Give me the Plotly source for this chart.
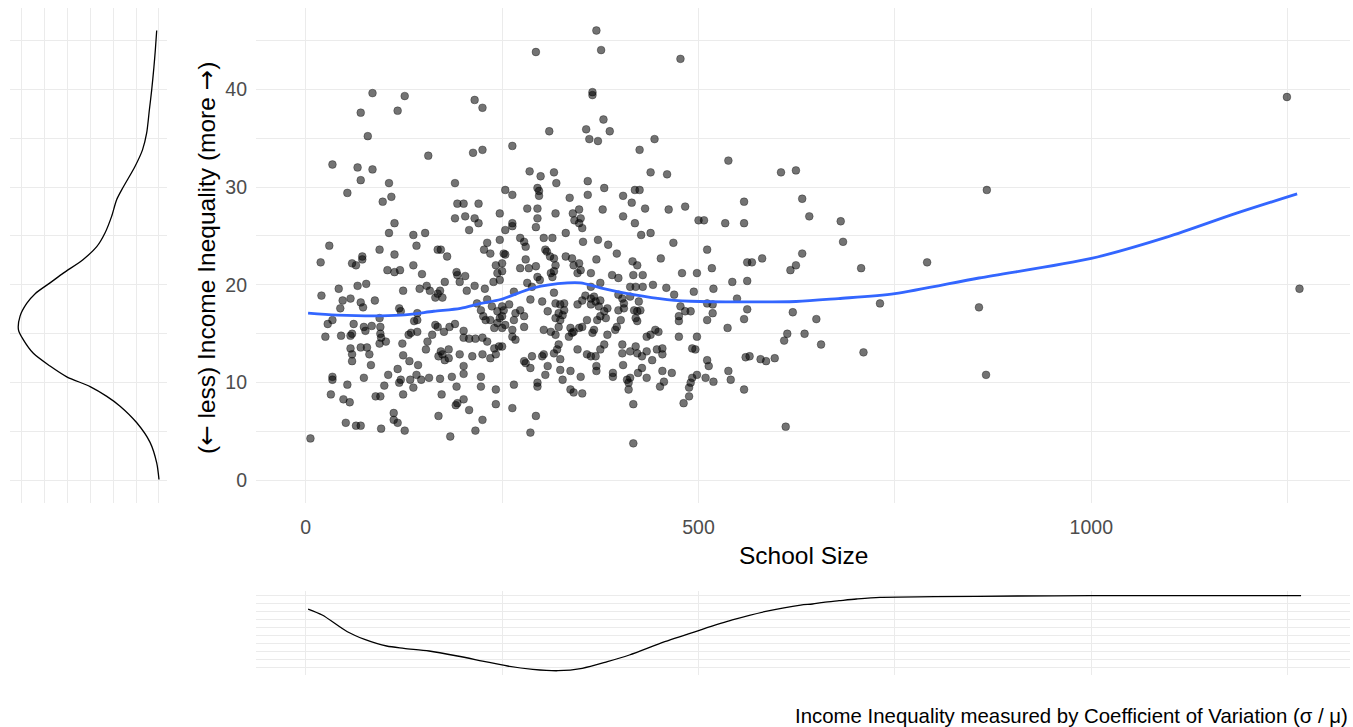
import plotly.graph_objects as go

# ---- school-level observations: enrolment vs. income inequality (CV in %) ----
school_size = [
    85, 126, 70, 117, 215, 225, 79, 34, 66, 85, 70, 156, 213, 225, 106, 53, 98, 109, 190, 193,
    201, 220, 190, 203, 215, 220, 208, 113, 106, 137, 152, 30, 141, 231, 247, 247, 94, 168, 172,
    370, 293, 376, 477, 365, 365, 379, 310, 357, 387, 361, 372, 444, 425, 263, 285, 299, 316, 319,
    359, 439, 460, 254, 263, 295, 297, 297, 336, 359, 380, 404, 419, 425, 415, 432, 462, 483, 282,
    295, 318, 295, 293, 340, 348, 342, 350, 348, 352, 378, 404, 419, 331, 427, 439, 263, 263, 254,
    273, 278, 280, 303, 314, 353, 372, 385, 468, 305, 500,
    19, 59, 64, 72, 72, 113, 104, 113, 120, 137, 148, 180, 192, 193, 203, 196, 227, 235, 242, 244,
    247, 20, 42, 47, 57, 44, 66, 77, 70, 73, 88, 124, 145, 154, 158, 168, 165, 174, 171, 177, 205,
    215, 228, 239, 119, 121, 94, 142, 142, 138, 28, 34, 25, 45, 61, 74, 76, 84, 95, 95, 96, 102, 94,
    57, 59, 57, 59, 59, 70, 78, 81, 83, 123, 124, 134, 131, 142, 132, 143, 153, 155, 161, 165, 168,
    176, 183, 190, 169, 174, 172, 182, 182, 177, 196, 201, 201, 208, 216, 225, 231, 212, 225, 235,
    240, 246, 242, 201, 201, 186, 192, 171, 157, 147, 141, 133, 137, 119, 121, 117, 105, 100, 124,
    74, 34, 34, 53, 32, 48, 56, 89, 95, 173, 191, 193, 201, 208, 223, 223, 242, 242, 112, 112, 117,
    126, 51, 64, 70, 96, 169, 225, 216, 184, 6, 218, 223, 226, 229, 235, 240, 244, 247, 237, 244, 231,
    252, 254, 250, 250, 280, 273, 284, 293, 295, 298, 307, 311, 316, 318, 316, 312, 314, 331, 339,
    341, 348, 350, 346, 370, 363, 396, 390, 398, 416, 422, 417, 429, 452, 479, 498, 459, 442, 494,
    413, 420, 429, 375, 363, 367, 265, 282, 288, 286, 301, 316, 318, 324, 329, 327, 329, 346, 352,
    356, 363, 363, 369, 375, 373, 384, 398, 403, 405, 405, 398, 418, 422, 426, 420, 422, 413, 424,
    469, 477, 483, 490, 475, 475, 475, 498, 492, 496, 250, 252, 259, 250, 254, 250, 265, 267, 273,
    278, 278, 263, 263, 267, 250, 303, 312, 318, 322, 324, 322, 308, 318, 337, 341, 348, 352, 358,
    367, 365, 371, 375, 380, 382, 335, 339, 384, 394, 396, 401, 322, 320, 316, 303, 301, 346, 358,
    363, 369, 375, 380, 403, 403, 413, 420, 422, 428, 434, 434, 439, 445, 449, 447, 454, 454, 441,
    278, 280, 288, 286, 308, 305, 324, 324, 327, 337, 350, 370, 370, 391, 391, 404, 409, 411, 411,
    413, 423, 428, 434, 454, 466, 456, 451, 498, 492, 490, 488, 488, 481, 295, 295, 265, 337, 341,
    352, 417, 263, 293, 286, 417,
    538, 605, 624, 558, 632, 507, 534, 558, 641, 681, 684, 511, 517, 562, 568, 581, 632, 624, 617,
    707, 791, 543, 562, 519, 549, 511, 518, 518, 562, 620, 731, 558, 650, 511, 537, 857, 867, 1265,
    613, 609, 635, 656, 710, 511, 513, 560, 565, 579, 586, 597, 538, 541, 519, 509, 558, 866, 611,
    1249,
]
inequality = [
    39.6, 39.3, 37.6, 37.8, 38.9, 38.1, 35.2, 32.3, 32.0, 31.8, 30.7, 33.2, 33.5, 33.8, 30.4, 29.4,
    28.5, 29.0, 30.4, 28.3, 28.3, 28.3, 26.8, 27.0, 26.8, 26.3, 25.6, 26.3, 25.3, 25.1, 25.3, 24.0,
    24.0, 24.3, 27.3, 24.6, 23.6, 23.6, 23.6,
    46.0, 43.8, 44.0, 43.1, 39.7, 39.4, 36.9, 35.7, 35.9, 35.7, 34.9, 34.7, 34.9, 33.8, 34.2, 31.6,
    31.1, 31.5, 30.4, 30.6, 31.5, 31.3, 29.7, 29.2, 29.9, 29.6, 29.1, 28.9, 29.2, 29.9, 29.1, 29.7,
    29.7, 28.4, 27.8, 27.7, 28.0, 27.8, 27.8, 27.3, 26.8, 25.9, 27.3, 27.7, 26.6, 26.8, 26.3, 25.8,
    27.7, 27.0, 26.3, 25.3, 25.1, 25.3, 26.3, 26.0, 25.6, 24.8, 24.4, 23.9, 24.8, 24.8, 24.4, 24.6,
    24.1, 24.3, 23.6, 26.6,
    22.3, 22.2, 22.0, 22.9, 22.6, 23.1, 21.5, 21.3, 21.5, 22.0, 21.1, 22.9, 21.3, 21.0, 20.9, 20.3,
    23.6, 23.2, 22.0, 21.2, 20.5, 18.9, 19.6, 18.4, 18.6, 17.6, 19.9, 20.1, 18.2, 17.7, 18.4, 19.4,
    19.6, 19.9, 19.4, 19.1, 18.7, 18.7, 19.4, 20.3, 19.4, 19.9, 19.6, 20.3, 17.6, 17.3, 16.6, 17.1,
    16.4, 16.3, 16.0, 16.4, 14.7, 14.8, 16.0, 15.7, 15.3, 15.8, 15.7, 15.0, 14.6, 14.2, 14.0, 14.8,
    15.0, 13.5, 12.9, 12.2, 13.6, 13.6, 12.9, 11.8, 14.0, 12.8, 15.1, 14.9, 15.2, 12.2, 11.8, 13.4,
    14.2, 14.9, 15.9, 15.7, 15.2, 15.7, 16.0, 12.7, 12.9, 13.2, 13.4, 12.5, 12.3, 12.9, 15.3, 14.6,
    14.5, 14.5, 14.6, 14.2, 12.7, 12.9, 12.5, 13.5, 13.7, 12.9, 11.7, 10.9, 10.6, 9.6, 10.4, 10.5,
    10.3, 10.8, 10.3, 9.5, 10.0, 10.3, 11.4, 10.8, 9.7, 8.8, 10.5, 10.6, 10.3, 9.8, 8.8, 8.3, 8.0,
    8.6, 8.6, 8.8, 7.7, 7.9, 8.3, 7.2, 10.6, 9.6, 9.3, 7.8, 6.9, 6.2, 5.9, 5.1, 5.9, 5.6, 5.6, 5.3,
    6.6, 6.2, 5.1, 4.5, 4.3, 18.1, 17.4, 16.8, 16.4, 16.4, 15.6, 16.1, 16.6, 17.8, 17.3, 18.5,
    23.2, 23.1, 22.2, 21.4, 22.6, 21.7, 21.7, 21.9, 20.8, 20.5, 23.4, 22.9, 22.7, 22.0, 21.4, 21.2,
    20.8, 22.9, 22.7, 22.0, 22.2, 21.5, 21.2, 22.6, 21.2, 23.2, 21.0, 20.7, 22.4, 22.0, 21.0, 21.0,
    22.7, 21.2, 21.2, 19.7, 20.0, 19.3, 19.8, 19.8, 19.8, 20.2, 19.8, 18.8, 19.3, 20.2, 19.8, 18.5,
    18.3, 19.2, 18.1, 18.0, 17.4, 16.9, 18.1, 18.0, 18.4, 18.9, 18.6, 18.0, 18.3, 18.4, 17.8, 17.6,
    19.0, 18.6, 18.1, 17.6, 17.4, 17.4, 17.3, 17.4, 16.6, 16.3, 18.8, 18.3, 19.0, 17.8, 17.3, 17.3,
    16.8, 16.3, 14.7, 14.7, 13.5, 13.4, 17.8, 17.4, 18.0, 16.8, 15.9, 15.6, 16.4, 17.1, 17.4, 16.8,
    15.7, 15.4, 14.7, 14.4, 13.7, 15.4, 15.2, 14.9, 15.7, 16.4, 17.1, 17.3, 16.6, 15.6, 15.2, 15.6,
    15.7, 16.4, 15.4, 15.1, 16.4, 16.8, 17.3, 16.6, 14.7, 15.1, 14.9, 15.4, 15.7, 16.4, 13.9, 13.4,
    13.0, 12.9, 12.7, 13.4, 12.9, 12.7, 12.7, 13.4, 13.9, 13.9, 13.0, 13.2, 13.7, 13.0, 12.7, 13.2,
    14.7, 14.9, 15.4, 15.2, 13.4, 12.9, 13.5, 12.3, 12.2, 12.0, 12.7, 11.5, 11.7, 10.8, 12.4, 11.3,
    10.3, 11.2, 10.6, 11.7, 11.2, 11.0, 10.6, 11.8, 10.3, 10.0, 9.3, 10.5, 11.0, 11.5, 10.5, 11.2,
    11.0, 10.1, 9.6, 10.8, 10.5, 10.0, 9.5, 8.6, 7.9, 10.0, 9.6, 9.8, 9.3, 9.0, 8.9, 7.8, 7.4, 6.6,
    4.9, 3.8,
    32.7, 31.5, 31.7, 28.5, 28.8, 26.6, 26.3, 26.3, 27.0, 26.5, 24.4, 23.6, 21.7, 22.3, 22.3, 22.7,
    23.2, 22.0, 21.5, 21.7, 22.3, 20.3, 20.4, 19.6, 18.6, 18.1, 18.0, 17.1, 17.5, 17.2, 18.1, 16.5,
    16.5, 16.4, 15.6, 17.7, 29.7, 19.6, 15.0, 14.3, 15.0, 13.9, 13.1, 12.3, 11.7, 12.6, 12.7, 12.4,
    12.2, 12.5, 11.2, 10.3, 10.1, 10.5, 9.3, 10.8, 5.5,
    39.2,
]

# ---- loess smoother of inequality on school size ----
smooth_x = [3, 40, 121, 163, 197, 223, 248, 290, 333, 350, 375, 417, 460, 502, 624, 678,
            750, 857, 1000, 1097, 1184, 1262]
smooth_y = [17.1, 16.9, 16.9, 17.3, 17.6, 18.1, 18.5, 19.7, 20.2, 20.2, 19.7, 19.0, 18.5, 18.3,
            18.3, 18.6, 19.1, 20.7, 22.7, 24.9, 27.3, 29.3]

# ---- marginal density of inequality (left panel) ----
ydens_y = [0.1, 1.8, 3.9, 5.9, 7.6, 8.6, 9.6, 10.6, 11.7, 13.0, 14.4, 15.4, 16.8, 18.1, 19.1,
           20.2, 21.2, 22.6, 23.9, 25.3, 27.0, 28.7, 30.0, 32.1, 33.8, 35.5, 37.9, 39.9, 42.3,
           44.0, 46.0]
ydens_d = [0.0, 0.0010, 0.0039, 0.0097, 0.0170, 0.0228, 0.0301, 0.0403, 0.0476, 0.0549, 0.0593,
           0.0614, 0.0607, 0.0578, 0.0541, 0.0476, 0.0418, 0.0331, 0.0272, 0.0236, 0.0207,
           0.0185, 0.0156, 0.0105, 0.0072, 0.0054, 0.0042, 0.0032, 0.0022, 0.0016, 0.0010]

# ---- marginal density of school size (bottom panel) ----
xdens_x = [3, 21, 53, 75, 103, 125, 157, 193, 225, 257, 289, 321, 352, 384, 412, 457, 502, 543,
           584, 630, 645, 659, 679, 701, 731, 800, 906, 1000, 1100, 1267]
xdens_d = [0.000438, 0.000625, 0.001147, 0.001384, 0.001594, 0.001666, 0.00175, 0.001906,
           0.002063, 0.002219, 0.002322, 0.002366, 0.002291, 0.002084, 0.001875, 0.001459,
           0.001094, 0.000781, 0.000522, 0.000313, 0.000281, 0.000228, 0.000178, 0.000125,
           0.000072, 0.000053, 0.000031, 0.000022, 0.000022, 0.000022]

x_ticks = [0, 500, 1000]
x_minor = [250, 750, 1250]
y_ticks = [0, 10, 20, 30, 40]
y_minor = [5, 15, 25, 35, 45]

W, H = 1353, 727
FONT = "Liberation Sans, Arial, sans-serif"
ARROW_FONT = "DejaVu Sans"
GRID = "#EBEBEB"
TICK_COL = "#4D4D4D"


def px_x(p):
    return p / W


def px_y(p):
    return 1 - p / H


def arrow(ch):
    return f"<span style='font-family:{ARROW_FONT}'>{ch}</span>"


main_xdom = [px_x(256), px_x(1350)]
main_ydom = [px_y(503), px_y(8)]
x_range = [-63.3, 1329.3]
y_range = [-2.3, 48.3]

fig = go.Figure()

fig.add_trace(go.Scatter(
    x=school_size, y=inequality, mode="markers",
    marker=dict(size=7.8, color="rgba(0,0,0,0.55)",
                line=dict(width=0.8, color="rgba(0,0,0,0.4)")),
    xaxis="x", yaxis="y", hoverinfo="skip",
))
fig.add_trace(go.Scatter(
    x=smooth_x, y=smooth_y, mode="lines",
    line=dict(color="#3366FF", width=2.8, shape="spline", smoothing=0.8),
    xaxis="x", yaxis="y", hoverinfo="skip",
))
fig.add_trace(go.Scatter(
    x=ydens_d, y=ydens_y, mode="lines",
    line=dict(color="black", width=1.3, shape="spline", smoothing=0.8),
    xaxis="x2", yaxis="y2", hoverinfo="skip",
))
fig.add_trace(go.Scatter(
    x=xdens_x, y=xdens_d, mode="lines",
    line=dict(color="black", width=1.3, shape="spline", smoothing=0.8),
    xaxis="x3", yaxis="y3", hoverinfo="skip",
))

common = dict(showline=False, zeroline=False, ticks="", gridcolor=GRID, gridwidth=1.3,
              tickfont=dict(family=FONT, size=19.5, color=TICK_COL))
minor_grid = dict(showgrid=True, gridcolor=GRID, gridwidth=0.9)

fig.update_layout(
    width=W, height=H,
    margin=dict(l=0, r=0, t=0, b=0),
    paper_bgcolor="white", plot_bgcolor="white",
    showlegend=False,
    xaxis=dict(domain=main_xdom, range=x_range, anchor="y", tickvals=x_ticks,
               ticklabelstandoff=10, minor=dict(tickvals=x_minor, **minor_grid), **common),
    yaxis=dict(domain=main_ydom, range=y_range, anchor="x", tickvals=y_ticks,
               ticklabelstandoff=8, minor=dict(tickvals=y_minor, **minor_grid), **common),
    xaxis2=dict(domain=[px_x(10), px_x(167)], range=[0.0651, -0.0035], anchor="y2",
                tickvals=[0, 0.02, 0.04, 0.06], showticklabels=False,
                minor=dict(tickvals=[0.01, 0.03, 0.05], **minor_grid), **common),
    yaxis2=dict(domain=main_ydom, range=y_range, anchor="x2", tickvals=y_ticks,
                showticklabels=False, minor=dict(tickvals=y_minor, **minor_grid), **common),
    xaxis3=dict(domain=main_xdom, range=x_range, anchor="y3", tickvals=x_ticks,
                showticklabels=False, minor=dict(tickvals=x_minor, **minor_grid), **common),
    yaxis3=dict(domain=[px_y(675), px_y(591)], range=[0.0025, -0.000125], anchor="x3",
                tickvals=[0, 0.0005, 0.001, 0.0015, 0.002], showticklabels=False,
                minor=dict(tickvals=[0.00025, 0.00075, 0.00125, 0.00175, 0.00225], **minor_grid),
                **common),
    annotations=[
        dict(text="School Size", x=px_x(803), y=px_y(555), xref="paper", yref="paper",
             xanchor="center", yanchor="middle", showarrow=False,
             font=dict(family=FONT, size=24.5, color="black")),
        dict(text=f"({arrow('\u2190')} less) Income Inequality (more {arrow('\u2192')})",
             x=px_x(206), y=px_y(258),
             xref="paper", yref="paper", textangle=-90, xanchor="center", yanchor="middle",
             showarrow=False, font=dict(family=FONT, size=24.5, color="black")),
        dict(text="Income Inequality measured by Coefficient of Variation (\u03c3 / \u03bc)",
             x=px_x(1350), y=px_y(716), xref="paper", yref="paper", xanchor="right",
             yanchor="middle", showarrow=False,
             font=dict(family=FONT, size=20.4, color="black")),
    ],
)

fig.write_html("out.html")
